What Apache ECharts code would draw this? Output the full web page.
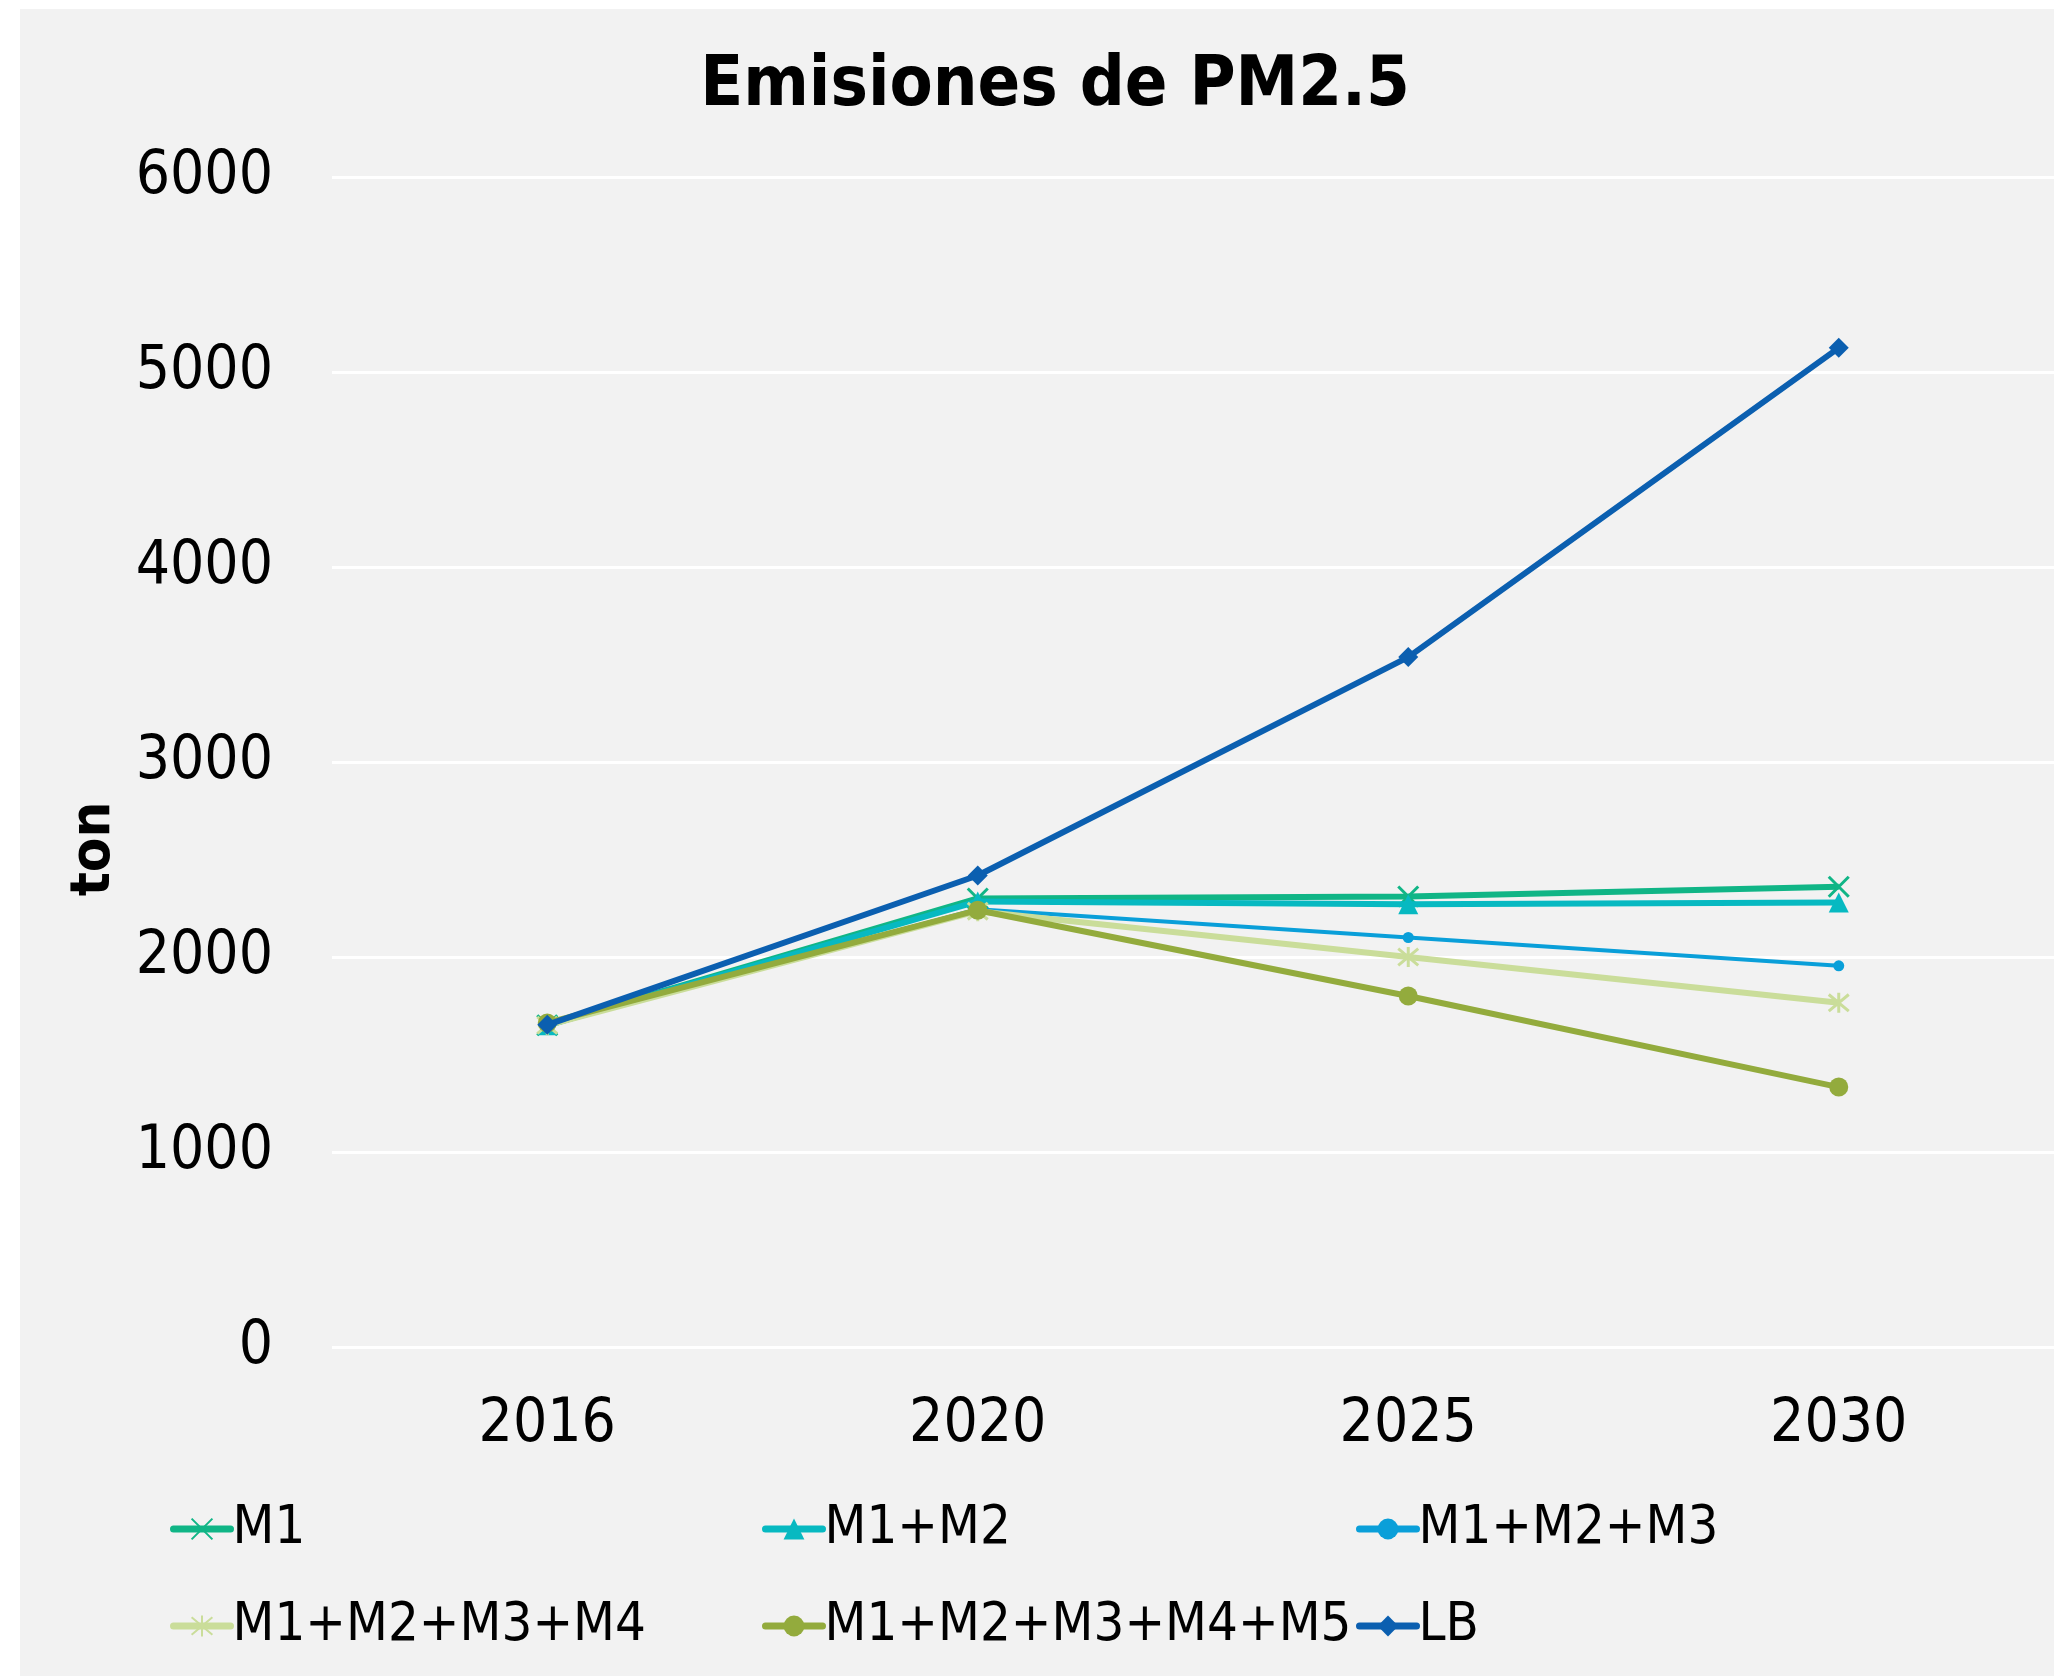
<!DOCTYPE html>
<html>
<head>
<meta charset="utf-8">
<script src="https://cdn.jsdelivr.net/npm/echarts@6/dist/echarts.min.js"></script>
<style>
html,body{margin:0;padding:0;background:#ffffff;width:2054px;height:1676px;overflow:hidden;}
#c{position:absolute;left:20px;top:9px;width:2034px;height:1667px;}
</style>
</head>
<body>
<div id="c"></div>
<script>
const categories = ['2016', '2020', '2025', '2030'];
const seriesNames = ['M1', 'M1+M2', 'M1+M2+M3', 'M1+M2+M3+M4', 'M1+M2+M3+M4+M5', 'LB'];
const m1 = [1650, 2300, 2310, 2360];
const m1m2 = [1650, 2285, 2270, 2280];
const m1m2m3 = [1650, 2245, 2100, 1955];
const m1m2m3m4 = [1650, 2235, 2000, 1765];
const m1m2m3m4m5 = [1662, 2240, 1800, 1333];
const lb = [1652, 2418, 3538, 5124];
const yTicks = [0, 1000, 2000, 3000, 4000, 5000, 6000];

const FONT = '"DejaVu Sans Condensed", "DejaVu Sans", sans-serif';
const colors = ['#10b586', '#07b9c1', '#0a9fd9', '#cadd9a', '#93ab3d', '#0b5fb0'];
const symbols = [
  'path://M0,0L10,10M10,0L0,10',
  'triangle',
  'circle',
  'path://M0,0L10,10M10,0L0,10M5,-1L5,11',
  'circle',
  'diamond'
];
const symbolSizes = [20, 20, 11, 20, 19, 20];
const widths = [6, 6, 4, 6, 6, 6];
const borderW = [3, 0, 0, 3, 0, 0];
const dataSets = [m1, m1m2, m1m2m3, m1m2m3m4, m1m2m3m4m5, lb];

const series = seriesNames.map((n, i) => ({
  name: n,
  type: 'line',
  data: dataSets[i],
  symbol: symbols[i],
  symbolSize: symbolSizes[i],
  showAllSymbol: true,
  lineStyle: {color: colors[i], width: widths[i]},
  itemStyle: {color: colors[i], borderColor: colors[i], borderWidth: borderW[i]},
  emphasis: {disabled: true},
  animation: false,
  z: 2 + i
}));

const legendPos = [
  [150, 1493], [742, 1493], [1336, 1493],
  [150, 1590], [742, 1590], [1336, 1590]
];
const legends = seriesNames.map((n, i) => ({
  data: [n],
  left: legendPos[i][0],
  top: legendPos[i][1],
  itemWidth: 57,
  itemHeight: 26,
  itemGap: 0,
  padding: 0,
  selectedMode: false,
  lineStyle: {width: 7, cap: 'round'},
  textStyle: {fontFamily: FONT, fontSize: 54, color: '#000', padding: [0, 0, 0, -3]}
}));

const chart = echarts.init(document.getElementById('c'));
chart.setOption({
  backgroundColor: '#f2f2f2',
  animation: false,
  title: {
    text: 'Emisiones de PM2.5',
    left: 1030,
    textAlign: 'center',
    top: 38,
    textStyle: {fontFamily: FONT, fontSize: 70, fontWeight: 'bold', color: '#000'}
  },
  legend: legends,
  graphic: [{
    type: 'text',
    x: 74,
    y: 840,
    rotation: Math.PI / 2,
    style: {text: 'ton', fontFamily: FONT, fontSize: 56, fontWeight: 'bold', fill: '#000', align: 'center', verticalAlign: 'middle'}
  }],
  grid: {left: 312, right: 0, top: 168, bottom: 329, containLabel: false},
  xAxis: {
    type: 'category',
    data: categories,
    boundaryGap: true,
    axisLine: {show: false},
    axisTick: {show: false},
    axisLabel: {fontFamily: FONT, fontSize: 60, color: '#000', margin: 48}
  },
  yAxis: {
    type: 'value',
    min: yTicks[0],
    max: yTicks[yTicks.length - 1],
    interval: 1000,
    axisLine: {show: false},
    axisTick: {show: false},
    splitLine: {lineStyle: {color: '#ffffff', width: 3}},
    axisLabel: {fontFamily: FONT, fontSize: 60, color: '#000', margin: 59, formatter: v => String(v)}
  },
  series: series
});
</script>
</body>
</html>
